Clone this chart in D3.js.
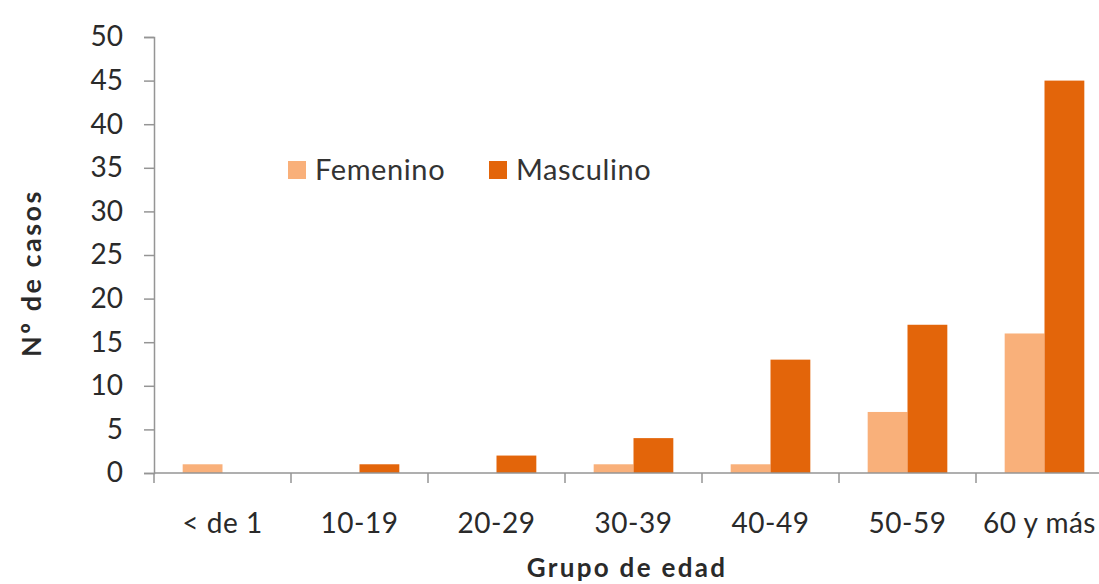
<!DOCTYPE html>
<html><head><meta charset="utf-8">
<script src="https://cdn.jsdelivr.net/npm/d3@7"></script>
<style>
html,body{margin:0;padding:0;background:#fff;overflow:hidden;}
svg{display:block;font-family:Lato,"Open Sans",sans-serif;}
</style></head>
<body>
<svg id="chart" width="1099" height="584"></svg>
<script>
const categories = ["< de 1","10-19","20-29","30-39","40-49","50-59","60 y más"];
const femenino = [1,0,0,1,1,7,16];
const masculino = [0,1,2,4,13,17,45];
const seriesNames = ["Femenino","Masculino"];
const seriesColors = ["#F9B07A","#E3650A"];
const yTicks = [0,5,10,15,20,25,30,35,40,45,50];

(function(){
const svg = d3.select("#chart");
const W = 1099;
const mLeft = 154, mRight = 1113, mTop = 37, mBottom = 473;
const axisColor = "#959595", textColor = "#2a2a2a";

const x = d3.scaleBand().domain(categories).range([mLeft, mRight]).paddingInner(0).paddingOuter(0);
const x1 = d3.scaleBand().domain(seriesNames).range([0, x.bandwidth()]).paddingInner(0).paddingOuter(0.72);
const y = d3.scaleLinear().domain([0,50]).range([mBottom, mTop]);

const data = categories.map((c,i)=>({cat:c, vals:[femenino[i], masculino[i]]}));

const groups = svg.append("g").selectAll("g").data(data).join("g")
  .attr("transform", d=>`translate(${x(d.cat)},0)`);
groups.selectAll("rect").data(d=>d.vals.map((v,j)=>({v, name:seriesNames[j], color:seriesColors[j]})))
  .join("rect")
  .attr("x", d=>x1(d.name))
  .attr("width", x1.bandwidth())
  .attr("y", d=>y(d.v))
  .attr("height", d=>mBottom - y(d.v))
  .attr("fill", d=>d.color);

const yAxis = d3.axisLeft(y).tickValues(yTicks).tickSize(10).tickPadding(21);
const gy = svg.append("g").attr("transform",`translate(${mLeft},0)`).call(yAxis);
gy.select(".domain").attr("stroke",axisColor).attr("stroke-width",1.5);
gy.selectAll(".tick line").attr("stroke",axisColor).attr("stroke-width",1.5);
gy.selectAll(".tick text").attr("font-size",28).attr("fill",textColor).attr("font-family","Lato, sans-serif");

const gx = svg.append("g");
gx.append("line").attr("x1",mLeft).attr("x2",mRight).attr("y1",mBottom).attr("y2",mBottom)
  .attr("stroke",axisColor).attr("stroke-width",1.5);
const bounds = categories.map(c=>x(c)).concat([x(categories[categories.length-1])+x.bandwidth()]);
gx.selectAll("line.tk").data(bounds).join("line").attr("class","tk")
  .attr("x1",d=>d).attr("x2",d=>d).attr("y1",mBottom).attr("y2",mBottom+10)
  .attr("stroke",axisColor).attr("stroke-width",1.5);
gx.selectAll("text").data(categories).join("text")
  .attr("y", 533)
  .attr("text-anchor","middle")
  .attr("font-size",28).attr("letter-spacing",0.5).attr("fill",textColor)
  .text(d=>d)
  .attr("x", function(d){
    const c = x(d)+x.bandwidth()/2;
    const w = this.getComputedTextLength();
    return Math.min(c, W - 3 - w/2);
  });

svg.append("text").attr("x",627).attr("y",577).attr("text-anchor","middle")
  .attr("font-size",26).attr("letter-spacing",2.3).attr("font-weight","bold").attr("fill",textColor).text("Grupo de edad");
svg.append("text").attr("transform","translate(41,273) rotate(-90)").attr("text-anchor","middle")
  .attr("font-size",27).attr("letter-spacing",2.5).attr("font-weight","bold").attr("fill",textColor).text("Nº de casos");

const legend = svg.append("g");
const legX = [288, 489];
seriesNames.forEach((n,i)=>{
  legend.append("rect").attr("x",legX[i]).attr("y",161).attr("width",18).attr("height",18).attr("fill",seriesColors[i]);
  legend.append("text").attr("x",legX[i]+27).attr("y",180).attr("font-size",29).attr("letter-spacing",0.6).attr("fill","#333").text(n);
});
})();
</script>
</body></html>
